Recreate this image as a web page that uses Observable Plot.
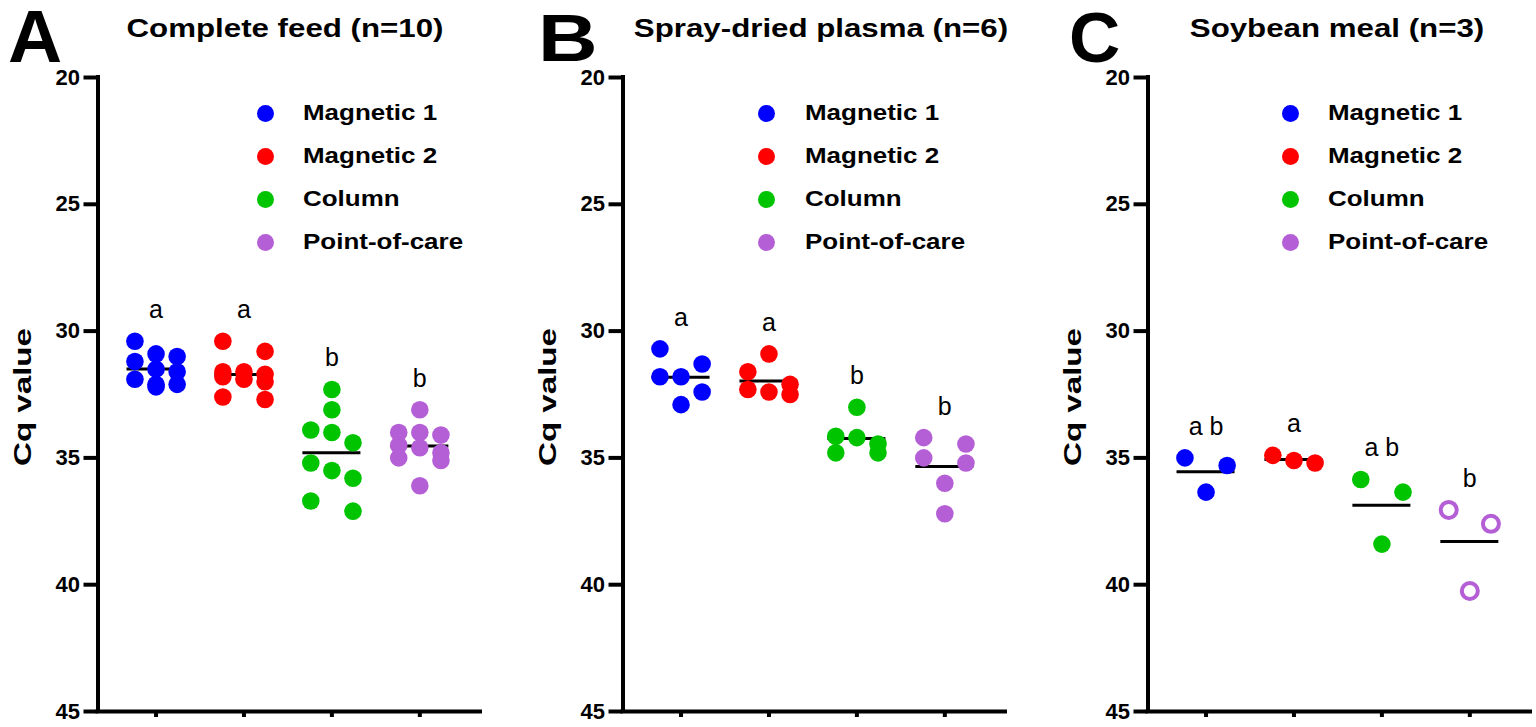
<!DOCTYPE html>
<html>
<head>
<meta charset="utf-8">
<script src="https://cdn.jsdelivr.net/npm/d3@7"></script>
<script src="https://cdn.jsdelivr.net/npm/@observablehq/plot@0.6"></script>
<style>
html, body { margin: 0; padding: 0; background: #fff; overflow: hidden; }
#wrap { position: relative; width: 1536px; height: 727px; overflow: hidden; font-family: "Liberation Sans", Arial, sans-serif; color: #000; }
.panel { position: absolute; top: 0; width: 490px; height: 727px; }
.letter { position: absolute; font-weight: bold; white-space: nowrap; transform-origin: 0 0; }
.title { position: absolute; top: 16.3px; font-size: 25px; line-height: 25px; font-weight: bold; white-space: nowrap; transform-origin: 50% 50%; }
.chart { position: absolute; left: 0; top: 60px; }
.ylab { position: absolute; left: 0; top: 0; font-size: 24px; line-height: 24px; font-weight: bold; white-space: nowrap; transform-origin: 0 0; }
.ldot { position: absolute; width: 17px; height: 17px; border-radius: 50%; }
.ltext { position: absolute; font-size: 22px; line-height: 22px; font-weight: bold; white-space: nowrap; transform-origin: 0 50%; transform: scaleX(1.18); }
</style>
</head>
<body>
<div id="wrap"></div>
<script>
// ---------------- data ----------------
const methods = ["Magnetic 1", "Magnetic 2", "Column", "Point-of-care"];
const panelLetters = ["A", "B", "C"];
const panelTitles = ["Complete feed (n=10)", "Spray-dried plasma (n=6)", "Soybean meal (n=3)"];
const yTicks = [20, 25, 30, 35, 40, 45];
const yLabel = "Cq value";

const feedMag1   = [30.4, 30.9, 31.0, 31.2, 31.5, 31.6, 31.9, 32.1, 32.1, 32.2];
const feedMag2   = [30.4, 30.8, 31.6, 31.6, 31.7, 31.8, 31.9, 32.0, 32.6, 32.7];
const feedColumn = [32.3, 33.1, 33.9, 34.0, 34.4, 35.2, 35.5, 35.8, 36.7, 37.1];
const feedPOC    = [33.1, 34.0, 34.0, 34.1, 34.5, 34.6, 34.8, 35.0, 35.1, 36.1];
const feedLetters = ["a", "a", "b", "b"];

const plasmaMag1   = [30.7, 31.3, 31.8, 31.8, 32.4, 32.9];
const plasmaMag2   = [30.9, 31.6, 32.1, 32.3, 32.4, 32.5];
const plasmaColumn = [33.0, 34.15, 34.2, 34.45, 34.8, 34.8];
const plasmaPOC    = [34.2, 34.45, 35.0, 35.2, 36.0, 37.2];
const plasmaLetters = ["a", "a", "b", "b"];

const soyMag1   = [35.0, 35.3, 36.35];
const soyMag2   = [34.9, 35.1, 35.2];
const soyColumn = [35.85, 36.35, 38.4];
const soyPOC    = [37.05, 37.6, 40.25];
const soyLetters = ["a b", "a", "a b", "b"];

// ---------------- styles / layout ----------------
const colors = ["#0000ff", "#ff0000", "#00c400", "#b55fd6"];
const panels = [
  {letter: panelLetters[0], title: panelTitles[0], series: [feedMag1, feedMag2, feedColumn, feedPOC], sig: feedLetters, open: []},
  {letter: panelLetters[1], title: panelTitles[1], series: [plasmaMag1, plasmaMag2, plasmaColumn, plasmaPOC], sig: plasmaLetters, open: []},
  {letter: panelLetters[2], title: panelTitles[2], series: [soyMag1, soyMag2, soyColumn, soyPOC], sig: soyLetters, open: [3]}
];
const layout = [
  {left: 0,      letterLeft: 8,    letterSize: 75, letterSx: 1.0,  titleCenter: 285,   legendDot: 265,   legendText: 303},
  {left: 524.5,  letterLeft: 13,   letterSize: 66, letterSx: 1.25, titleCenter: 296.5, legendDot: 241.5, legendText: 280.5},
  {left: 1049.5, letterLeft: 19.4, letterSize: 71, letterSx: 1.0,  titleCenter: 287.5, legendDot: 240.5, legendText: 278.5}
];
const legendRows = [113, 156, 199, 242];

const xDomain = [-0.66, 3.69];
const spread = 0.24, meanHalf = 0.33, rowTol = 0.65, rowMax = 3;

// Prism-like scatter: group close values into rows, spread each row symmetrically
function swarm(values) {
  const sorted = values.slice().sort((a, b) => a - b);
  const rows = []; let cur = [];
  for (const v of sorted) {
    if (cur.length && (v - cur[0] > rowTol || cur.length >= rowMax)) { rows.push(cur); cur = []; }
    cur.push(v);
  }
  if (cur.length) rows.push(cur);
  const out = [];
  for (const row of rows) {
    const k = row.length;
    row.forEach((v, j) => out.push({v, off: k === 1 ? 0 : (j / (k - 1) * 2 - 1) * spread}));
  }
  return out;
}

const wrap = document.getElementById("wrap");

panels.forEach((p, pi) => {
  const L = layout[pi];
  const panel = document.createElement("div");
  panel.className = "panel";
  panel.style.left = L.left + "px";
  wrap.appendChild(panel);

  // letter (compact line box, baseline at y = 62)
  const letter = document.createElement("div");
  letter.className = "letter";
  letter.textContent = p.letter;
  const lh = 0.72 * L.letterSize;
  letter.style.fontSize = L.letterSize + "px";
  letter.style.lineHeight = lh + "px";
  letter.style.left = L.letterLeft + "px";
  letter.style.top = (62 - (lh / 2 + 0.3465 * L.letterSize)) + "px";
  letter.style.transform = `scaleX(${L.letterSx})`;
  panel.appendChild(letter);

  // title
  const title = document.createElement("div");
  title.className = "title";
  title.textContent = p.title;
  title.style.left = L.titleCenter + "px";
  title.style.transform = "translateX(-50%) scaleX(1.25)";
  panel.appendChild(title);

  // data for marks
  const points = [];
  const groups = [];
  p.series.forEach((vals, i) => {
    swarm(vals).forEach(d => points.push({idx: i, v: d.v, off: d.off, open: p.open.includes(i)}));
    groups.push({idx: i, mean: d3.mean(vals), min: d3.min(vals), sig: p.sig[i]});
  });
  const filled = points.filter(d => !d.open);
  const hollow = points.filter(d => d.open);

  const chart = Plot.plot({
    width: 490, height: 667,
    marginLeft: 97.5, marginRight: 10, marginTop: 17, marginBottom: 16,
    x: {domain: xDomain},
    y: {domain: [20, 45], reverse: true},
    color: {type: "identity"},
    style: {fontFamily: "'Liberation Sans', Arial, sans-serif", fontSize: "22px", fontWeight: "bold", color: "black", background: "transparent", overflow: "visible"},
    marks: [
      Plot.axisY({ticks: yTicks, tickSize: 14, tickPadding: 4, strokeWidth: 4, label: null, fontSize: 22, fontWeight: "bold"}),
      Plot.axisX({ticks: [0, 1, 2, 3], tickSize: 6, strokeWidth: 4, tickFormat: () => "", label: null}),
      Plot.ruleX([xDomain[0]], {strokeWidth: 4, strokeLinecap: "square"}),
      Plot.ruleY([45], {strokeWidth: 4, strokeLinecap: "square"}),
      Plot.ruleY(groups, {y: "mean", x1: d => d.idx - meanHalf, x2: d => d.idx + meanHalf, stroke: "black", strokeWidth: 3}),
      Plot.dot(filled, {x: d => d.idx + d.off, y: "v", r: 8.8, fill: d => colors[d.idx], stroke: "none"}),
      Plot.dot(hollow, {x: d => d.idx + d.off, y: "v", r: 8, fill: "white", stroke: d => colors[d.idx], strokeWidth: 4}),
      Plot.text(groups, {x: "idx", y: "min", text: "sig", dy: -23, lineAnchor: "bottom", fontSize: 25, fontWeight: "normal", fill: "black"})
    ]
  });
  const holder = document.createElement("div");
  holder.className = "chart";
  holder.appendChild(chart);
  panel.appendChild(holder);

  // y label
  const yl = document.createElement("div");
  yl.className = "ylab";
  yl.textContent = yLabel;
  yl.style.transform = "translate(31px, 397px) rotate(-90deg) scaleX(1.38) translate(-50%, -20.3px)";
  panel.appendChild(yl);

  // legend
  methods.forEach((m, i) => {
    const dot = document.createElement("div");
    dot.className = "ldot";
    dot.style.background = colors[i];
    dot.style.left = (L.legendDot - 8.5) + "px";
    dot.style.top = (legendRows[i] - 8.5) + "px";
    panel.appendChild(dot);
    const t = document.createElement("div");
    t.className = "ltext";
    t.textContent = m;
    t.style.left = L.legendText + "px";
    t.style.top = (legendRows[i] - 11) + "px";
    panel.appendChild(t);
  });
});
</script>
</body>
</html>
